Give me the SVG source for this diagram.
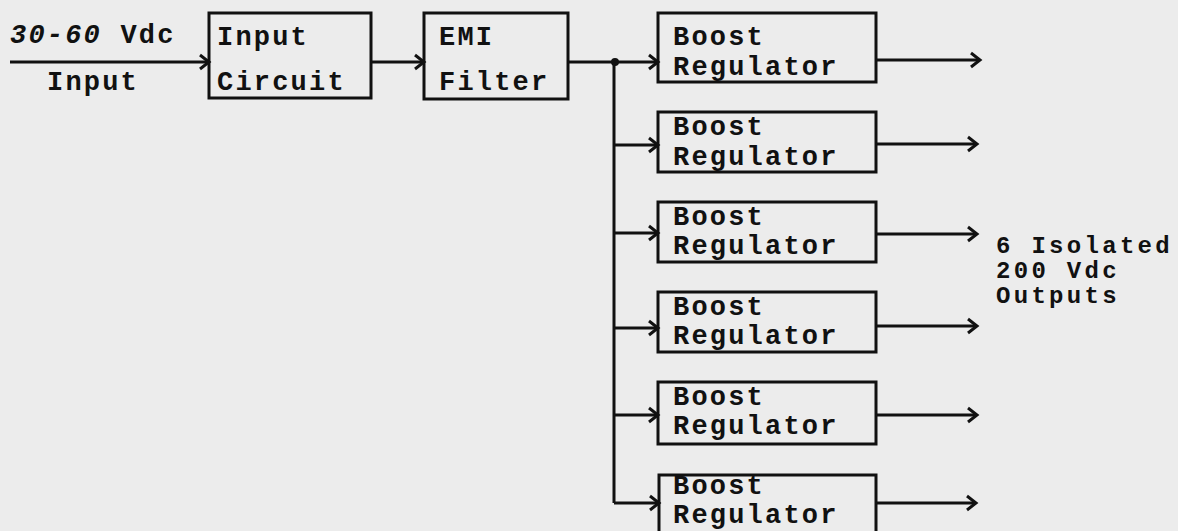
<svg xmlns="http://www.w3.org/2000/svg" width="1178" height="531" viewBox="0 0 1178 531">
<style>
.bx{fill:none;stroke:#111;stroke-width:3}
.ln{fill:none;stroke:#111;stroke-width:3}
.t{font-family:"Liberation Mono","DejaVu Sans Mono",monospace;font-weight:bold;font-size:27px;letter-spacing:2.2px;fill:#111}
.o{font-family:"Liberation Mono","DejaVu Sans Mono",monospace;font-weight:bold;font-size:24px;letter-spacing:3.3px;fill:#111}
</style>
<defs>
<marker id="ah" markerUnits="userSpaceOnUse" markerWidth="16" markerHeight="20" refX="12" refY="10" orient="auto">
<path d="M3,3 L12,10 L3,17" fill="none" stroke="#111" stroke-width="3"/>
</marker>
</defs>
<rect x="0" y="0" width="1178" height="531" fill="#ececec"/>
<g id="input-label">
<text class="t" x="10" y="43" font-style="italic">30-60 <tspan font-style="normal">Vdc</tspan></text>
<text class="t" x="47" y="90">Input</text>
</g>
<g id="input-circuit">
<rect class="bx" x="209" y="13" width="162" height="85"/>
<text class="t" x="217" y="45">Input</text>
<text class="t" x="217" y="90">Circuit</text>
</g>
<g id="emi-filter">
<rect class="bx" x="424" y="13" width="144" height="86"/>
<text class="t" x="439" y="45">EMI</text>
<text class="t" x="439" y="90">Filter</text>
</g>
<g id="boost1">
<rect class="bx" x="658" y="13" width="218" height="69"/>
<text class="t" x="673" y="45">Boost</text>
<text class="t" x="673" y="75">Regulator</text>
</g>
<g id="boost2">
<rect class="bx" x="658" y="112" width="218" height="60"/>
<text class="t" x="673" y="135">Boost</text>
<text class="t" x="673" y="165">Regulator</text>
</g>
<g id="boost3">
<rect class="bx" x="658" y="202" width="218" height="60"/>
<text class="t" x="673" y="225">Boost</text>
<text class="t" x="673" y="254">Regulator</text>
</g>
<g id="boost4">
<rect class="bx" x="658" y="292" width="218" height="60"/>
<text class="t" x="673" y="315">Boost</text>
<text class="t" x="673" y="344">Regulator</text>
</g>
<g id="boost5">
<rect class="bx" x="658" y="382" width="218" height="62"/>
<text class="t" x="673" y="405">Boost</text>
<text class="t" x="673" y="434">Regulator</text>
</g>
<g id="boost6">
<rect class="bx" x="659" y="475" width="217" height="62"/>
<text class="t" x="673" y="494">Boost</text>
<text class="t" x="673" y="523">Regulator</text>
</g>
<g id="outputs-label">
<text class="o" x="996" y="253">6 Isolated</text>
<text class="o" x="996" y="278">200 Vdc</text>
<text class="o" x="996" y="303">Outputs</text>
</g>
<g id="connectors">
<line class="ln" x1="10" y1="62" x2="209" y2="62" marker-end="url(#ah)"/>
<line class="ln" x1="371" y1="62" x2="424" y2="62" marker-end="url(#ah)"/>
<line class="ln" x1="568" y1="62" x2="658" y2="62" marker-end="url(#ah)"/>
<circle cx="615" cy="62" r="4" fill="#111"/>
<path class="ln" d="M614,62 V503"/>
<line class="ln" x1="614" y1="145" x2="658" y2="145" marker-end="url(#ah)"/>
<line class="ln" x1="614" y1="233" x2="658" y2="233" marker-end="url(#ah)"/>
<line class="ln" x1="614" y1="328" x2="658" y2="328" marker-end="url(#ah)"/>
<line class="ln" x1="614" y1="415" x2="658" y2="415" marker-end="url(#ah)"/>
<line class="ln" x1="614" y1="503" x2="659" y2="503" marker-end="url(#ah)"/>
<line class="ln" x1="876" y1="60" x2="980" y2="60" marker-end="url(#ah)"/>
<line class="ln" x1="876" y1="144" x2="977" y2="144" marker-end="url(#ah)"/>
<line class="ln" x1="876" y1="234" x2="977" y2="234" marker-end="url(#ah)"/>
<line class="ln" x1="876" y1="326" x2="977" y2="326" marker-end="url(#ah)"/>
<line class="ln" x1="876" y1="415" x2="977" y2="415" marker-end="url(#ah)"/>
<line class="ln" x1="876" y1="503" x2="976" y2="503" marker-end="url(#ah)"/>
</g>
</svg>
